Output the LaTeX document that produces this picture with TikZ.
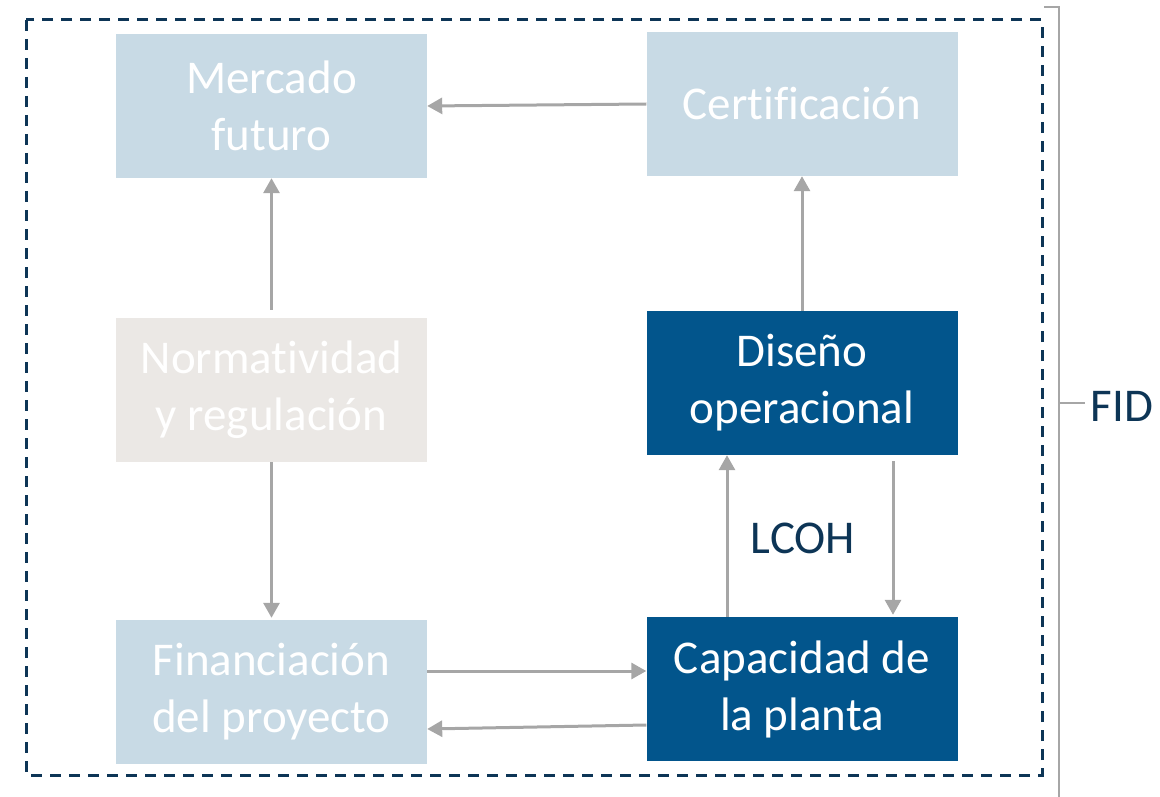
\documentclass[tikz,border=0pt]{standalone}
\usepackage{fontspec}
\setmainfont[Ligatures=NoCommon]{Carlito}
\usetikzlibrary{arrows.meta}
\definecolor{lightbox}{HTML}{C8DAE5}
\definecolor{greybox}{HTML}{EBE8E5}
\definecolor{darkbox}{HTML}{02558C}
\definecolor{navy}{HTML}{0D3556}
\definecolor{arrowgrey}{HTML}{A6A6A6}
\tikzstyle{light}=[rectangle, fill=lightbox, text=white, minimum width=311pt, minimum height=144pt, align=center, font=\fontsize{47}{57}\selectfont]
\tikzstyle{rule}=[light, fill=greybox]
\tikzstyle{dark}=[light, fill=darkbox]
\tikzstyle{flow}=[draw=arrowgrey, line width=3pt, -{Triangle[length=15pt, width=16pt]}]

\begin{document}
\begin{tikzpicture}[x=1pt, y=-1pt]
                    \useasboundingbox (0, 0) rectangle (1160, 797);
                    \draw[navy, line width=3pt, dash pattern=on 11pt off 8pt] (26, 20) rectangle (1042, 775);
                    \node[light] (11) at (271.5, 106) {Mercado\\futuro};
                    \node[light] (12) at (802, 104) {Certificación};
                    \node[rule] (21) at (271.5, 390) {Normatividad\\y regulación};
                    \node[dark] (22) at (802, 383) {Diseño\\operacional};
                    \node[light] (31) at (271.5, 692) {Financiación\\del proyecto};
                    \node[dark] (32) at (802, 689) {Capacidad de\\la planta};
                    \node[text=navy, font=\fontsize{47}{57}\selectfont] (lc) at (803, 538) {LCOH};
                    \draw[flow] (12.west)--(11.east);
                    \draw[flow] ([yshift=8pt]21.north)--(11.south);
                    \draw[flow] (21.south)--([yshift=2pt]31.north);
                    \draw[flow] (22.north)--(12.south);
                    \draw[flow] ([xshift=-75pt]32.north)--([xshift=-75pt]22.south);
                    \draw[flow] ([xshift=91pt, yshift=-6pt]22.south)--([xshift=91pt, yshift=2pt]32.north);
                    \draw[flow] ([yshift=21pt]31.east)--([yshift=18pt]32.west);
                    \draw[flow] ([yshift=-36pt]32.west)--([yshift=-37pt]31.east);
                    % brace for FID
                    \coordinate (b1) at (1044, 7);
                    \coordinate (b2) at (1059, 797);
                    \draw[arrowgrey, line width=2.5pt] (b1)--(b1 -| b2)--(b2);
                    \node[text=navy, font=\fontsize{47}{57}\selectfont] (fid) at (1122, 406) {FID};
                    \draw[arrowgrey, line width=2.5pt] (1059, 403)--(1085, 403);
                \end{tikzpicture}
\end{document}
